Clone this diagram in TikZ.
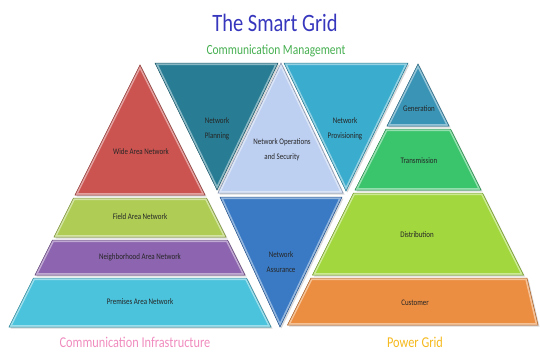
\documentclass[tikz,border=0pt]{standalone}
\usepackage{fontspec}
\setmainfont{Carlito}[FakeStretch=0.82]
\usepackage{tikz}
\usepackage{xcolor}
\definecolor{wanred}{RGB}{204,84,80}
\definecolor{fangreen}{RGB}{175,205,85}
\definecolor{nanpurple}{RGB}{140,100,175}
\definecolor{pancyan}{RGB}{75,195,220}
\definecolor{planteal}{RGB}{40,125,148}
\definecolor{opsblue}{RGB}{190,208,242}
\definecolor{provblue}{RGB}{58,172,205}
\definecolor{assublue}{RGB}{58,122,196}
\definecolor{genteal}{RGB}{58,148,182}
\definecolor{transgreen}{RGB}{58,196,108}
\definecolor{distlime}{RGB}{162,215,62}
\definecolor{custorange}{RGB}{236,142,66}
\definecolor{titleblue}{RGB}{55,55,190}
\definecolor{mgmtgreen}{RGB}{70,175,80}
\definecolor{infrapink}{RGB}{240,140,190}
\definecolor{powergold}{RGB}{245,185,30}
% #1 fill colour, #2 corner list of the band
\newcommand{\bevelshape}[2]{%
  \fill[black!30, opacity=0.5, xshift=1.5pt, yshift=-1.5pt] #2 -- cycle;
  \fill[#1] #2 -- cycle;
  \begin{scope}
    \clip #2 -- cycle;
    \draw[#1!55!white, line width=4pt] #2 -- cycle;
  \end{scope}
  \draw[#1!70!black, line width=0.5pt] #2 -- cycle;
}

\begin{document}
\begin{tikzpicture}[
    x=1pt, y=-1pt,
    lbl/.style={font=\fontsize{8.5}{15}\selectfont, align=center, text=black!85},
    heading/.style={anchor=base, inner sep=0pt, font=\fontsize{15}{18}\selectfont}
  ]
    \useasboundingbox (0,0) rectangle (540,351);

    % Titles
    \node[heading, text=titleblue, font=\fontsize{25}{30}\selectfont] (title) at (275,31) {The Smart Grid};
    \node[heading, text=mgmtgreen, font=\fontsize{14}{17}\selectfont] (mgmt) at (276,54) {Communication Management};

    % Communication infrastructure pyramid
    \bevelshape{wanred}{(140,65) -- (205,195) -- (75,195)}
    \bevelshape{fangreen}{(73.5,198) -- (206.5,198) -- (226,237) -- (54,237)}
    \bevelshape{nanpurple}{(52.5,240) -- (227.5,240) -- (245,275) -- (35,275)}
    \bevelshape{pancyan}{(33.5,278) -- (246.5,278) -- (271,327) -- (9,327)}

    % Communication management triangles
    \bevelshape{planteal}{(155,63) -- (278,63) -- (217,190)}
    \bevelshape{opsblue}{(281,63) -- (343,193) -- (218,193)}
    \bevelshape{provblue}{(284,63) -- (408,63) -- (346,191)}
    \bevelshape{assublue}{(220,197) -- (342,197) -- (280,327)}

    % Power grid pyramid
    \bevelshape{genteal}{(418,64) -- (449,126) -- (387,126)}
    \bevelshape{transgreen}{(386,129) -- (450.5,129) -- (481,190) -- (355,190)}
    \bevelshape{distlime}{(353.5,193) -- (482.5,193) -- (523.5,275) -- (312.5,275)}
    \bevelshape{custorange}{(311,278) -- (527,278) -- (538,325) -- (287.5,325)}

    % Labels
    \node[lbl] (wan) at (141,152) {Wide Area Network};
    \node[lbl] (fan) at (140,217) {Field Area Network};
    \node[lbl] (nan) at (140,257) {Neighborhood Area Network};
    \node[lbl] (pan) at (140,302) {Premises Area Network};
    \node[lbl] (plan) at (217,129) {Network\\Planning};
    \node[lbl] (ops) at (282,150) {Network Operations\\and Security};
    \node[lbl] (prov) at (345,129) {Network\\Provisioning};
    \node[lbl] (assu) at (281,262) {Network\\Assurance};
    \node[lbl] (gen) at (419,109) {Generation};
    \node[lbl] (trans) at (419,161) {Transmission};
    \node[lbl] (dist) at (417,235) {Distribution};
    \node[lbl] (cust) at (415,303) {Customer};

    % Group captions
    \node[heading, text=infrapink] (infra) at (135,347) {Communication Infrastructure};
    \node[heading, text=powergold] (power) at (415,347) {Power Grid};
  \end{tikzpicture}
\end{document}
